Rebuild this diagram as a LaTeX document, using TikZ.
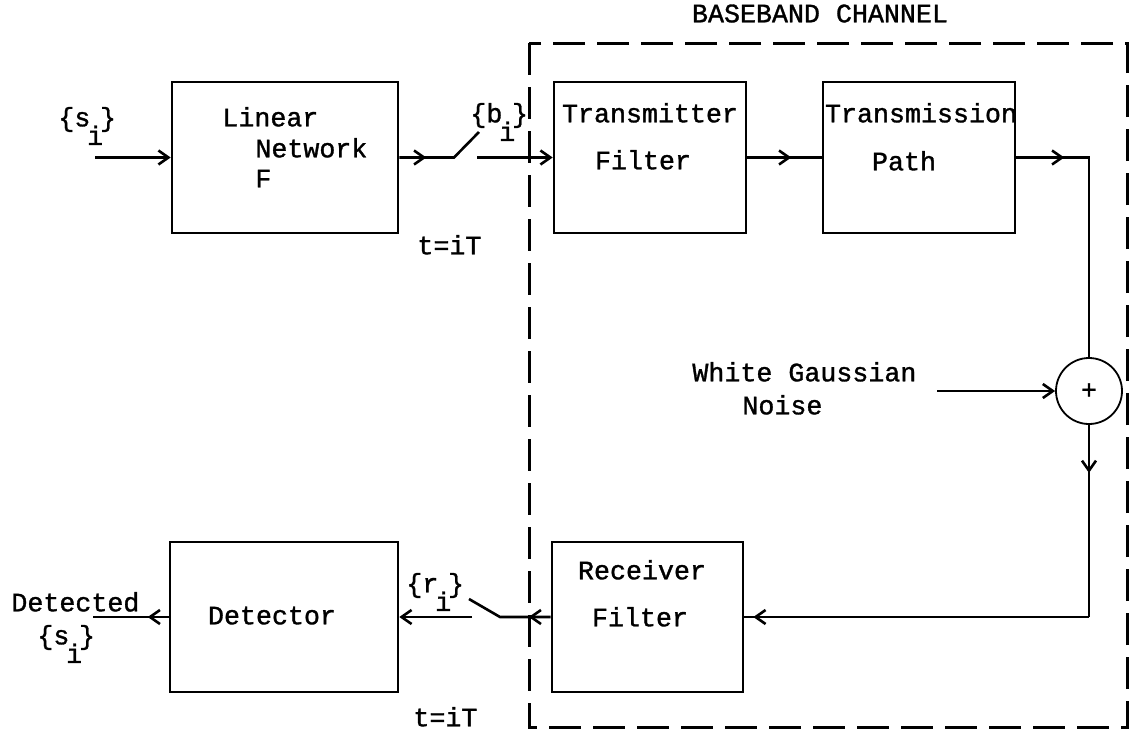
\documentclass[tikz,border=0pt]{standalone}
\usepackage{fontspec}
\setmonofont{Liberation Mono}[FakeBold=1.2]
\usetikzlibrary{arrows.meta,decorations.markings}
\newcommand{\subi}[1]{\{#1\kern-.12em\raisebox{-.7em}{i}\kern-.12em\}}
\begin{document}
\begin{tikzpicture}[x=0.5pt,y=-0.5pt,
  every node/.style={font=\ttfamily\fontsize{13.33}{16}\selectfont, inner sep=0pt},
  box/.style={draw, line width=1.3pt, inner sep=0pt, minimum height=75.5pt},
  conn/.style={line width=1.3pt},
  tip/.tip={Straight Barb[length=5pt,width=7pt]},
  arrowat/.style={postaction={decorate}, decoration={markings,
      mark=at position #1 with {\arrow{Straight Barb[length=5pt,width=7pt]}}}},
  lbl/.style={anchor=mid west}]
\useasboundingbox (0,0) rectangle (1136,735);

% channel frame
\draw[line width=1.5pt, dash pattern=on 16pt off 6pt] (529,43) rectangle (1127,727);
\node[anchor=mid] (bb) at (820,18) {BASEBAND CHANNEL};

% blocks
\node[box, minimum width=113pt] (ln) at (285,157.5) {};
\node[box, minimum width=96pt] (tf) at (650,157.5) {};
\node[box, minimum width=96pt] (tp) at (919,157.5) {};
\node[box, minimum width=95.5pt, minimum height=75pt] (rf) at (647.5,617) {};
\node[box, minimum width=114pt, minimum height=75pt] (det) at (284,617) {};
\node[draw, circle, line width=0.9pt, minimum size=33pt] (sum) at (1089,391) {+};

% block texts
\node[lbl] (lnA) at (222,122) {Linear};
\node[lbl] (lnB) at (255,153) {Network};
\node[lbl] (lnC) at (255,183) {F};
\node[anchor=mid] (tfA) at (650,118) {Transmitter};
\node[anchor=mid] (tfB) at (643,165) {Filter};
\node[anchor=mid] (tpA) at (921,118) {Transmission};
\node[anchor=mid] (tpB) at (904,166) {Path};
\node[anchor=mid] (rfA) at (642,575) {Receiver};
\node[anchor=mid] (rfB) at (640,622) {Filter};
\node[anchor=mid] (detA) at (272,620) {Detector};

% signal labels
\node[lbl] (si) at (58,122) {\subi{s}};
\node[lbl] (bi) at (470,118) {\subi{b}};
\node[lbl] (ri) at (406,588) {\subi{r}};
\node[lbl] (det1) at (11,607) {Detected};
\node[lbl] (det2) at (37,640) {\subi{s}};
\node[lbl] (ta) at (417,250) {t=iT};
\node[lbl] (tb) at (413,722) {t=iT};
\node[lbl] (wgA) at (692,377) {White Gaussian};
\node[lbl] (wgB) at (742,410) {Noise};

% connector points
\coordinate (in) at (95,157.5);
\coordinate (p1) at (454,157.5);
\coordinate (s1) at (479,132);
\coordinate (q1) at (477,157.5);
\coordinate (c1) at (1089,157.5);
\coordinate (c2) at (1089,617);
\coordinate (p2) at (500,617);
\coordinate (s2) at (469,599);
\coordinate (q2) at (472,617);
\coordinate (out) at (93,617);
\coordinate (nz) at (937,391);

% connectors
\draw[conn,-tip] (in) -- (ln.west);
\draw[conn,arrowat=13.5pt] (ln.east) -- (p1) -- (s1);
\draw[conn,-tip] (q1) -- (tf.west);
\draw[conn,arrowat=22pt] (tf.east) -- (tp.west);
\draw[conn,arrowat=24pt] (tp.east) -- (c1) -- (sum.north);
\draw[conn,-tip] (nz) -- (sum.west);
\draw[conn,arrowat=24pt] (sum.south) -- (c2);
\draw[conn,arrowat=-4.5pt] (c2) -- (rf.east);
\draw[conn,arrowat=11pt] (rf.west) -- (p2) -- (s2);
\draw[conn,-tip] (q2) -- (det.east);
\draw[conn,arrowat=10.5pt] (det.west) -- (out);
\end{tikzpicture}
\end{document}
